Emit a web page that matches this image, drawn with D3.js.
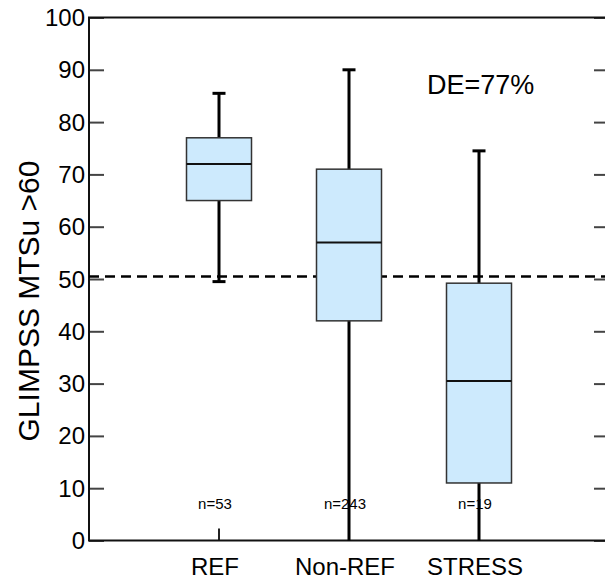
<!DOCTYPE html>
<html>
<head>
<meta charset="utf-8">
<script src="https://cdn.jsdelivr.net/npm/d3@7"></script>
<style>
  body { margin: 0; background: #fff; }
  text { font-family: Arial, "Liberation Sans", sans-serif; }
</style>
</head>
<body>
<svg></svg>
<script>
const W = 605, H = 580;
const marginLeft = 89, marginTop = 17.5, plotW = 520, plotH = 523;

// data
const categories = ["REF", "Non-REF", "STRESS"];
const whiskerLow = [49.5, 0, 0];
const q1 = [65, 42, 11];
const median = [72, 57, 30.5];
const q3 = [77, 71, 49.2];
const whiskerHigh = [85.5, 90, 74.5];
const counts = ["n=53", "n=243", "n=19"];
const yTicks = [0, 10, 20, 30, 40, 50, 60, 70, 80, 90, 100];
const threshold = 50.5;
const annotation = "DE=77%";

const svg = d3.select("svg")
    .attr("width", W)
    .attr("height", H);

const x = d3.scaleLinear().domain([0, 4]).range([0, plotW]);
const y = d3.scaleLinear().domain([0, 100]).range([plotH, 0]);

const chart = svg.append("g")
    .attr("transform", `translate(${marginLeft}, ${marginTop})`);

// left axis with inward ticks
const yAxis = chart.append("g")
    .call(d3.axisRight(y).tickValues(yTicks).tickSize(15).tickFormat(""));
yAxis.select(".domain").remove();
yAxis.selectAll("line").attr("stroke", "#444").attr("stroke-width", 2);

// right axis ticks (inward)
const yAxisR = chart.append("g")
    .attr("transform", `translate(${plotW}, 0)`)
    .call(d3.axisLeft(y).tickValues(yTicks).tickSize(15).tickFormat(""));
yAxisR.select(".domain").remove();
yAxisR.selectAll("line").attr("stroke", "#444").attr("stroke-width", 2);

// tick labels
chart.selectAll(".ylab")
    .data(yTicks)
    .enter().append("text")
    .attr("class", "ylab")
    .attr("x", -4)
    .attr("y", d => y(d) + 8.5)
    .attr("text-anchor", "end")
    .attr("font-size", 24)
    .text(d => d);

// x ticks inward
chart.selectAll(".xtick")
    .data(categories)
    .enter().append("line")
    .attr("x1", (d, i) => x(i + 1))
    .attr("x2", (d, i) => x(i + 1))
    .attr("y1", plotH)
    .attr("y2", plotH - 12)
    .attr("stroke", "#222")
    .attr("stroke-width", 2);

// frame: left, bottom, top
chart.append("path")
    .attr("d", `M${plotW},0H0V${plotH}H${plotW}`)
    .attr("fill", "none")
    .attr("stroke", "#111")
    .attr("stroke-width", 2);

// threshold line
chart.append("line")
    .attr("x1", 0).attr("x2", plotW)
    .attr("y1", y(threshold)).attr("y2", y(threshold))
    .attr("stroke", "#000")
    .attr("stroke-width", 2.5)
    .attr("stroke-dasharray", "10,6");

const boxes = chart.selectAll(".box")
    .data(categories)
    .enter().append("g")
    .attr("class", "box");

// whiskers
boxes.append("line")
    .attr("x1", (d, i) => x(i + 1)).attr("x2", (d, i) => x(i + 1))
    .attr("y1", (d, i) => y(whiskerLow[i]))
    .attr("y2", (d, i) => y(whiskerHigh[i]))
    .attr("stroke", "#000")
    .attr("stroke-width", 3);

// caps
boxes.filter((d, i) => whiskerLow[i] > 0).append("line")
    .attr("x1", d => x(categories.indexOf(d) + 1 - 0.05))
    .attr("x2", d => x(categories.indexOf(d) + 1 + 0.05))
    .attr("y1", d => y(whiskerLow[categories.indexOf(d)]))
    .attr("y2", d => y(whiskerLow[categories.indexOf(d)]))
    .attr("stroke", "#000").attr("stroke-width", 3);
boxes.append("line")
    .attr("x1", (d, i) => x(i + 1 - 0.05)).attr("x2", (d, i) => x(i + 1 + 0.05))
    .attr("y1", (d, i) => y(whiskerHigh[i]))
    .attr("y2", (d, i) => y(whiskerHigh[i]))
    .attr("stroke", "#000").attr("stroke-width", 3);

// box
boxes.append("rect")
    .attr("x", (d, i) => x(i + 1 - 0.25))
    .attr("width", x(0.5) - x(0))
    .attr("y", (d, i) => y(q3[i]))
    .attr("height", (d, i) => y(q1[i]) - y(q3[i]))
    .attr("fill", "#cdeafd")
    .attr("stroke", "#333")
    .attr("stroke-width", 1.5);

// median
boxes.append("line")
    .attr("x1", (d, i) => x(i + 1 - 0.25)).attr("x2", (d, i) => x(i + 1 + 0.25))
    .attr("y1", (d, i) => y(median[i])).attr("y2", (d, i) => y(median[i]))
    .attr("stroke", "#111")
    .attr("stroke-width", 2);

// counts
chart.selectAll(".count")
    .data(counts)
    .enter().append("text")
    .attr("x", (d, i) => x(i + 1) - 4)
    .attr("y", y(6.1))
    .attr("text-anchor", "middle")
    .attr("font-size", 15)
    .text(d => d);

// category labels
chart.selectAll(".cat")
    .data(categories)
    .enter().append("text")
    .attr("x", (d, i) => x(i + 1) - 4)
    .attr("y", plotH + 34)
    .attr("text-anchor", "middle")
    .attr("font-size", 24)
    .text(d => d);

// annotation
chart.append("text")
    .attr("x", x(2.6))
    .attr("y", y(85.4))
    .attr("font-size", 27)
    .attr("font-family", "'Open Sans', sans-serif")
    .text(annotation);

// y title
svg.append("text")
    .attr("transform", `translate(39, ${marginTop + plotH / 2 + 22}) rotate(-90)`)
    .attr("text-anchor", "middle")
    .attr("font-size", 30)
    .text("GLIMPSS MTSu >60");
</script>
</body>
</html>
